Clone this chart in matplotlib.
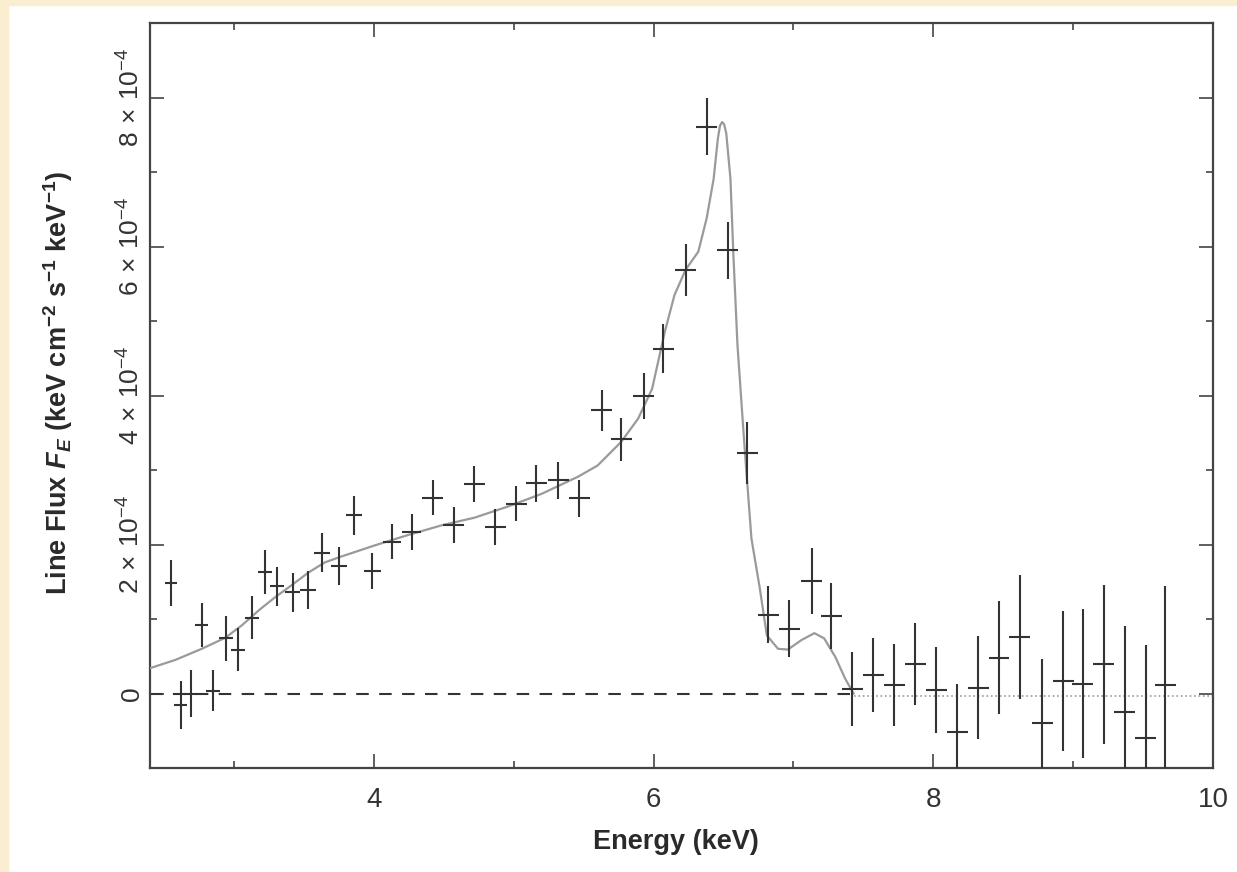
import matplotlib
matplotlib.use("Agg")
import matplotlib.pyplot as plt
from matplotlib.patches import Rectangle
from matplotlib.ticker import FixedLocator, FuncFormatter

plt.rcParams["font.family"] = ["Liberation Sans", "DejaVu Sans"]
plt.rcParams["mathtext.fontset"] = "custom"
plt.rcParams["mathtext.default"] = "regular"
plt.rcParams["mathtext.rm"] = "Liberation Sans"
plt.rcParams["mathtext.it"] = "Liberation Sans:italic:bold"
plt.rcParams["mathtext.bf"] = "Liberation Sans:bold"

# measured line flux, in units of 1e-4 keV cm^-2 s^-1 keV^-1
energy = [2.55, 2.62, 2.69, 2.77, 2.85, 2.94, 3.03, 3.13, 3.22, 3.31,
          3.42, 3.53, 3.63, 3.75, 3.86, 3.99, 4.13, 4.27, 4.42, 4.57,
          4.72, 4.87, 5.02, 5.16, 5.32, 5.47, 5.63, 5.77, 5.93, 6.07,
          6.23, 6.38, 6.53, 6.67, 6.82, 6.97, 7.13, 7.27, 7.42, 7.57,
          7.72, 7.87, 8.02, 8.17, 8.32, 8.47, 8.62, 8.78, 8.93, 9.07,
          9.22, 9.37, 9.52, 9.66]
flux = [1.48, -0.15, 0.00, 0.92, 0.04, 0.74, 0.59, 1.02, 1.63, 1.44,
        1.36, 1.39, 1.89, 1.71, 2.39, 1.64, 2.04, 2.17, 2.63, 2.26,
        2.81, 2.24, 2.55, 2.82, 2.86, 2.62, 3.80, 3.41, 3.99, 4.63,
        5.69, 7.61, 5.95, 3.23, 1.06, 0.87, 1.51, 1.04, 0.06, 0.25,
        0.12, 0.39, 0.05, -0.52, 0.08, 0.48, 0.76, -0.40, 0.17, 0.13,
        0.39, -0.25, -0.60, 0.11]
flux_err = [0.31, 0.32, 0.32, 0.30, 0.28, 0.30, 0.29, 0.29, 0.29, 0.26,
            0.26, 0.26, 0.26, 0.26, 0.26, 0.24, 0.24, 0.24, 0.24, 0.24,
            0.24, 0.24, 0.24, 0.25, 0.25, 0.25, 0.28, 0.29, 0.31, 0.33,
            0.35, 0.38, 0.38, 0.42, 0.38, 0.38, 0.44, 0.44, 0.50, 0.50,
            0.55, 0.55, 0.58, 0.65, 0.69, 0.76, 0.83, 0.86, 0.94, 1.00,
            1.07, 1.15, 1.25, 1.33]
energy_err = [0.045, 0.045, 0.045, 0.045, 0.05, 0.05, 0.05, 0.05, 0.05, 0.05,
              0.055, 0.055, 0.055, 0.055, 0.056, 0.06, 0.065, 0.07, 0.075, 0.075,
              0.075, 0.075, 0.075, 0.075, 0.075, 0.075, 0.075, 0.075, 0.075, 0.075,
              0.075, 0.075, 0.075, 0.075, 0.075, 0.075, 0.075, 0.075, 0.075, 0.075,
              0.075, 0.075, 0.075, 0.075, 0.075, 0.075, 0.075, 0.075, 0.075, 0.075,
              0.075, 0.075, 0.075, 0.075]

# model line profile
model_e = [2.40, 2.58, 2.77, 2.94, 3.06, 3.18, 3.30, 3.41, 3.53, 3.65,
           3.77, 4.01, 4.25, 4.49, 4.72, 4.96, 5.20, 5.46, 5.60, 5.77,
           5.89, 5.99, 6.08, 6.15, 6.23, 6.32, 6.38, 6.43, 6.46, 6.475,
           6.49, 6.505, 6.52, 6.55, 6.57, 6.60, 6.65, 6.70, 6.76, 6.81,
           6.89, 6.96, 7.06, 7.15, 7.22, 7.30, 7.37, 7.43]
model_f = [0.34, 0.45, 0.60, 0.75, 0.92, 1.12, 1.30, 1.45, 1.62, 1.76,
           1.84, 1.99, 2.13, 2.26, 2.36, 2.51, 2.68, 2.91, 3.06, 3.38,
           3.69, 4.09, 4.85, 5.35, 5.69, 5.93, 6.38, 6.91, 7.45, 7.62,
           7.67, 7.64, 7.52, 6.91, 5.93, 4.68, 3.33, 2.08, 1.41, 0.78,
           0.60, 0.59, 0.72, 0.81, 0.74, 0.49, 0.20, 0.00]

zero_dash_e = [2.40, 7.43]
zero_dot_e = [7.43, 10.0]

scale = 1e-4

fig = plt.figure(figsize=(12.37, 8.72), dpi=100, facecolor="white")
ax = fig.add_axes([150 / 1237, 1 - 768 / 872, 1063 / 1237, 745 / 872])

# scanned page edge
fig.add_artist(Rectangle((0, 0), 8 / 1237, 1, transform=fig.transFigure,
                         color="#fbeed0", zorder=-5))
fig.add_artist(Rectangle((0, 1 - 5 / 872), 1, 5 / 872, transform=fig.transFigure,
                         color="#fbeed0", zorder=-5))

ax.plot(zero_dash_e, [0, 0], color="#333333", lw=1.5, ls=(0, (6, 5)), zorder=2)
ax.plot(zero_dot_e, [-0.04 * scale, -0.04 * scale], color="#9a9a9a", lw=1.2,
        ls=":", zorder=2)
ax.plot(model_e, [v * scale for v in model_f], color="#9a9a9a", lw=1.6, zorder=3)

ax.errorbar(energy, [v * scale for v in flux],
            yerr=[v * scale for v in flux_err], xerr=energy_err,
            fmt="none", ecolor="#333333", elinewidth=1.5, capsize=0, zorder=4)

ax.set_xlim(2.4, 10)
ax.set_ylim(-1e-4, 9e-4)

ax.xaxis.set_major_locator(FixedLocator([4, 6, 8, 10]))
ax.xaxis.set_minor_locator(FixedLocator([3, 5, 7, 9]))
ax.yaxis.set_major_locator(FixedLocator([0, 2e-4, 4e-4, 6e-4, 8e-4]))
ax.yaxis.set_minor_locator(FixedLocator([1e-4, 3e-4, 5e-4, 7e-4]))


def ylab(v, pos):
    n = round(v / 1e-4)
    if n == 0:
        return "0"
    return r"$%d\,\times\,10^{-4}$" % n


ax.yaxis.set_major_formatter(FuncFormatter(ylab))
ax.xaxis.set_major_formatter(FuncFormatter(lambda v, p: "%d" % v))

ax.tick_params(which="both", direction="in", top=True, right=True,
               color="#444444", width=1.2)
ax.tick_params(which="major", length=10)
ax.tick_params(which="minor", length=5)
ax.tick_params(axis="x", labelsize=20, pad=14, labelcolor="#333333")
ax.tick_params(axis="y", labelsize=19, pad=4, labelcolor="#333333",
               labelrotation=90)
for lab in ax.get_yticklabels():
    lab.set_verticalalignment("center")

for s in ax.spines.values():
    s.set_color("#444444")
    s.set_linewidth(1.6)

fig.text(676 / 1237, 1 - 842 / 872, "Energy (keV)", ha="center", va="center",
         fontsize=19.5, fontweight="bold", color="#2a2a2a")
fig.text(58 / 1237, 1 - 383 / 872,
         r"Line Flux $\mathit{F_E}$ (keV cm$^{-2}$ s$^{-1}$ keV$^{-1}$)",
         rotation=90, ha="center", va="center",
         fontsize=19.5, fontweight="bold", color="#2a2a2a")

fig.savefig("out.png", dpi=100, facecolor="white")
